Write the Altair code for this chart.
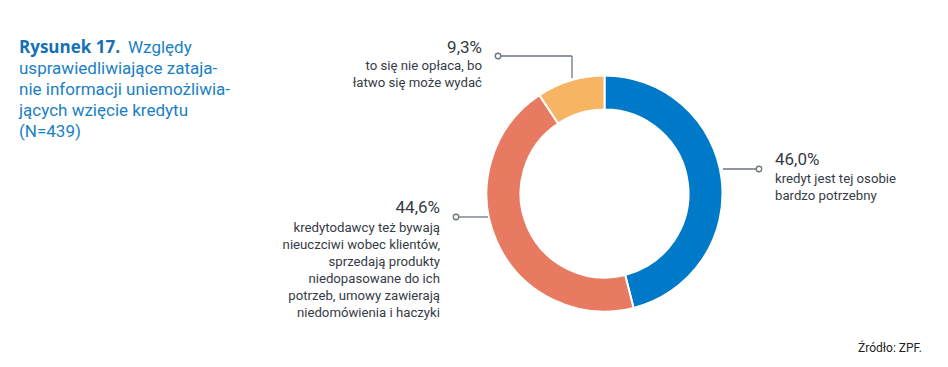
import altair as alt
import pandas as pd

# ---- data ----
categories = [
    "kredyt jest tej osobie bardzo potrzebny",
    "kredytodawcy też bywają nieuczciwi wobec klientów, sprzedają produkty niedopasowane do ich potrzeb, umowy zawierają niedomówienia i haczyki",
    "to się nie opłaca, bo łatwo się może wydać",
]
values = [46.0, 44.6, 9.3]
value_labels = ["46,0%", "44,6%", "9,3%"]
label_lines = [
    ["kredyt jest tej osobie", "bardzo potrzebny"],
    ["kredytodawcy też bywają", "nieuczciwi wobec klientów,", "sprzedają produkty",
     "niedopasowane do ich", "potrzeb, umowy zawierają", "niedomówienia i haczyki"],
    ["to się nie opłaca, bo", "łatwo się może wydać"],
]
colors = ["#0079C8", "#E87A61", "#F7B462"]
title_bold = "Rysunek 17."
title_lines = ["Względy", "usprawiedliwiające zataja-", "nie informacji uniemożliwia-",
               "jących wzięcie kredytu", "(N=439)"]
source_text = "Źródło: ZPF."

FONT = "Roboto"
TEXT_DARK = "#363b46"
BLUE_TITLE = "#1a80c4"
LEADER = "#6d7480"

df = pd.DataFrame({"category": categories, "value": values, "order": [0, 1, 2]})

W, H = 932, 351
CX, CY = 596.5, 185.5

donut = alt.Chart(df).mark_arc(innerRadius=84, outerRadius=118, stroke="white", strokeWidth=2).encode(
    theta=alt.Theta("value:Q", stack=True),
    order=alt.Order("order:Q"),
    color=alt.Color("category:N", scale=alt.Scale(domain=categories, range=colors), legend=None),
    x=alt.value(CX),
    y=alt.value(CY),
)

base = alt.Chart(pd.DataFrame({"a": [0]}))

def rule(x1, y1, x2, y2):
    return base.mark_rule(color=LEADER, strokeWidth=1.3).encode(
        x=alt.value(x1), y=alt.value(y1), x2=alt.value(x2), y2=alt.value(y2))

def dot(x, y):
    return base.mark_point(shape="circle", size=30, filled=True, fill="white",
                           stroke=LEADER, strokeWidth=1.3, opacity=1).encode(
        x=alt.value(x), y=alt.value(y))

def txt(text, x, y, size, align, color=TEXT_DARK, weight="normal", lh=17, font=FONT):
    return base.mark_text(text=text, align=align, baseline="alphabetic", font=font,
                          fontSize=size, fontWeight=weight, color=color, lineHeight=lh).encode(
        x=alt.value(x), y=alt.value(y))

layers = [donut]
# leaders
layers += [rule(715, 161, 751, 161), dot(751, 161)]
layers += [rule(490, 48, 564, 48), rule(564, 48, 564, 70), dot(490, 48)]
layers += [rule(448, 209, 480, 209), dot(448, 209)]

# labels
layers += [txt(value_labels[0], 767, 157, 17, "left"), txt(label_lines[0], 767, 175, 13.2, "left")]
layers += [txt(value_labels[2], 474, 45, 17, "right"), txt(label_lines[2], 474, 62, 13.2, "right")]
layers += [txt(value_labels[1], 432, 205, 17, "right"), txt(label_lines[1], 432, 224, 13.2, "right")]

# title
layers += [txt(title_bold, 11, 45, 17, "left", color="#1570b5", weight="bold", font="Open Sans")]
layers += [txt(title_lines[0], 120, 45, 17, "left", color=BLUE_TITLE)]
layers += [txt(title_lines[1:], 11, 66, 17, "left", color=BLUE_TITLE, lh=21)]

# source
layers += [txt(source_text, 914, 344, 12, "right", color="#222222")]

chart = alt.layer(*layers).properties(
    width=W, height=H, padding=0, autosize=alt.AutoSizeParams(type="none")
).configure_view(stroke=None)

chart.save("out.html", embed_options={"renderer": "svg", "actions": False})
